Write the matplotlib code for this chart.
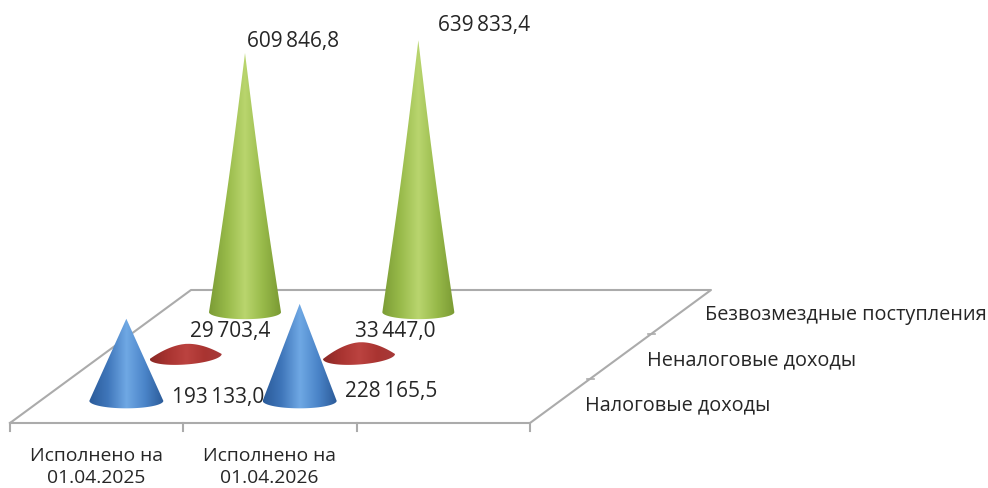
import numpy as np
import matplotlib
matplotlib.use("Agg")
import matplotlib.pyplot as plt
from matplotlib.colors import LinearSegmentedColormap
from matplotlib.patches import Polygon

plt.rcParams["font.family"] = ["Open Sans", "DejaVu Sans"]

categories = ["Исполнено на\n01.04.2025", "Исполнено на\n01.04.2026", ""]
series = ["Налоговые доходы", "Неналоговые доходы", "Безвозмездные поступления"]
tax_income = [193133.0, 228165.5]
nontax_income = [29703.4, 33447.0]
free_income = [609846.8, 639833.4]

# floor of the fake 3d box, in picture pixels
FRONT_LEFT = 10
FRONT_RIGHT = 530
FRONT_Y = 424
BACK_Y = 291
SHEAR = 181
CONE_SHEAR = 178
PX_PER_VALUE = 0.000425
LINE = "#ababab"
TEXT = "#262626"

colors = {
    0: ["#2a5a99", "#3f76ba", "#6fa8e4", "#4a84c8", "#2b5a98"],
    1: ["#8a2825", "#a93431", "#bb4340", "#a93431", "#a63a3a"],
    2: ["#7b9c35", "#98ba4a", "#b9d56e", "#98ba4a", "#7a9a33"],
}
half_width = {0: 37, 1: 36, 2: 36}
half_depth = {0: 7.5, 1: 8, 2: 7}


def floor_xy(cat_pos, depth, shear=SHEAR):
    step = (FRONT_RIGHT - FRONT_LEFT) / len(categories)
    return FRONT_LEFT + step * cat_pos + shear * depth, FRONT_Y - (FRONT_Y - BACK_Y) * depth


def draw_cone(ax, cat, ser, value):
    cx, cy = floor_xy(cat + 0.5, (ser + 0.5) / len(series), CONE_SHEAR)
    height = value * PX_PER_VALUE
    hw, hd = half_width[ser], half_depth[ser]

    t = np.linspace(0, 1, 60)
    if ser == 1:
        # the low red one is only a squashed lump
        w = (1 - t) ** 0.55
    else:
        w = 1 - t
    if ser == 2:
        # green ones pinch in a little towards the tip
        w = w - 0.035 * np.sin(np.pi * t)
        w = np.clip(w, 0, None)
    right = np.column_stack([cx + hw * w, cy - height * t])
    left = np.column_stack([cx - hw * w[::-1], cy - height * t[::-1]])
    a = np.linspace(np.pi, 2 * np.pi, 50)
    bottom = np.column_stack([cx + hw * np.cos(a), cy - hd * np.sin(a)])
    outline = np.vstack([right, left, bottom])
    if ser == 1:
        # lump leans a bit to the right
        outline[:, 1] -= (outline[:, 0] - cx) * 0.07

    cmap = LinearSegmentedColormap.from_list("cone", colors[ser])
    grad = np.linspace(0, 1, 256).reshape(1, -1)
    img = ax.imshow(grad, cmap=cmap, aspect="auto", zorder=3 + (2 - ser),
                    extent=[cx - hw, cx + hw, cy + hd + 3, cy - height - 3])
    img.set_clip_path(Polygon(outline, closed=True, transform=ax.transData))


fig = plt.figure(figsize=(9.88, 4.89), dpi=100)
ax = fig.add_axes([0, 0, 1, 1])

# floor and ticks
x0, y0 = floor_xy(0, 0)
x1, y1 = floor_xy(len(categories), 0)
x2, y2 = floor_xy(len(categories), 1)
x3, y3 = floor_xy(0, 1)
ax.plot([x0, x1, x2, x3, x0], [y0, y1, y2, y3, y0], color=LINE, lw=1.5, zorder=1)
for i in range(len(categories) + 1):
    x, y = floor_xy(i, 0)
    ax.plot([x, x], [y, y + 8], color=LINE, lw=1.5, zorder=1)
for s in range(1, len(series)):
    x, y = floor_xy(len(categories), s / len(series))
    ax.plot([x - 3, x + 4], [y, y], color=LINE, lw=1.2, zorder=1)

for ser, vals in enumerate([tax_income, nontax_income, free_income]):
    for cat, val in enumerate(vals):
        draw_cone(ax, cat, ser, val)


def fmt(v):
    return f"{v:,.1f}".replace(",", "\u2009").replace(".", ",")


# data labels were hand placed in the original too
label_xy = {
    (0, 0): (172, 398), (0, 1): (345, 392),
    (1, 0): (190, 332), (1, 1): (355, 331),
    (2, 0): (247, 42), (2, 1): (438, 26),
}
for ser, vals in enumerate([tax_income, nontax_income, free_income]):
    for cat, val in enumerate(vals):
        x, y = label_xy[(ser, cat)]
        ax.text(x, y, fmt(val), fontsize=15, color=TEXT, ha="left", va="center", zorder=10)

for i, name in enumerate(categories):
    x, _ = floor_xy(i + 0.5, 0)
    ax.text(x - 0.5, 467, name, fontsize=13.9, color=TEXT, ha="center", va="center",
            linespacing=1.3, zorder=10)

series_xy = [(585, 405), (647, 360), (705, 315)]
for name, (x, y) in zip(series, series_xy):
    ax.text(x, y, name, fontsize=14.3, color=TEXT, ha="left", va="center", zorder=10)

ax.set_xlim(0, 988)
ax.set_ylim(489, 0)
ax.axis("off")
fig.savefig("out.png", dpi=100)
